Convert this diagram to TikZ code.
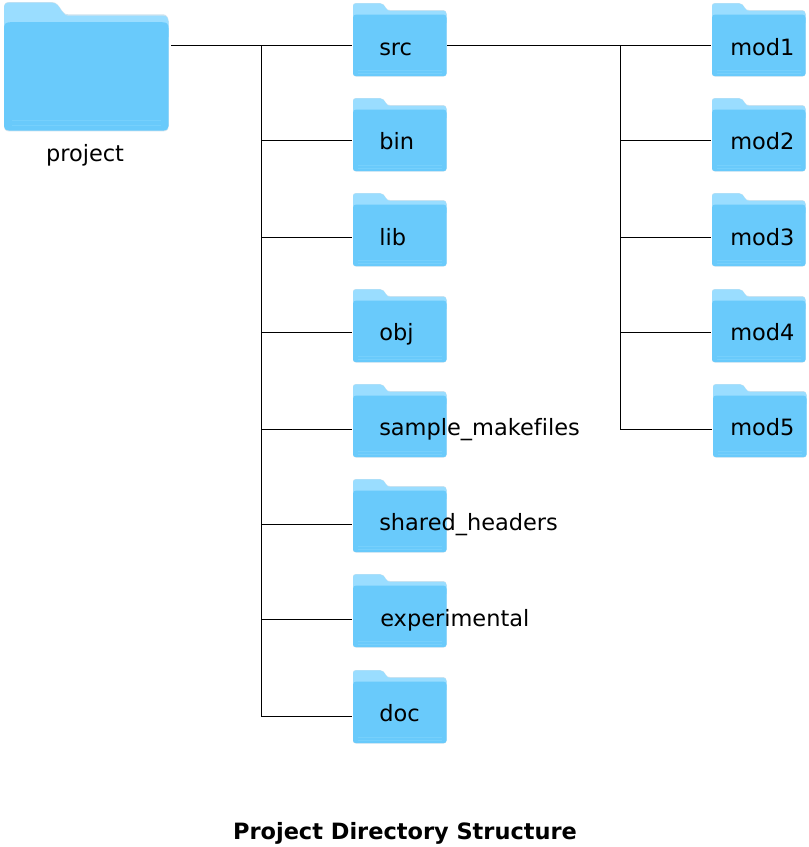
\documentclass[tikz,border=0pt]{standalone}
\usepackage{fontspec}
\setmainfont[Ligatures=NoCommon]{DejaVu Sans}
\definecolor{folderback}{HTML}{9ADDFF}
\definecolor{folderfront}{HTML}{69CAFB}
\definecolor{folderline}{HTML}{76D0FC}
\definecolor{folderedge}{HTML}{CFE3EE}
\tikzset{
  x=0.75pt,y=-0.75pt,
  foldertext/.style={anchor=base west,inner sep=0pt,font=\fontsize{16.85pt}{20pt}\selectfont,text=black},
  foldernode/.style={anchor=north west,inner sep=0pt,minimum width=#1*93.5*0.75pt,minimum height=#1*73.5*0.75pt},
  link/.style={draw=black,line width=0.75pt},
}
% \folder{name}{x}{y}{scale}
\newcommand{\folder}[4]{%
  \begin{scope}[shift={(#2,#3)},scale=#4]
    \fill[folderedge] (0,3) .. controls (0,1) and (1,0) .. (3,0) -- (27,0)
      .. controls (30,0) and (31,2) .. (33,5) .. controls (34,6.6) and (35,7) .. (37,7)
      -- (90.5,7) .. controls (92.5,7) and (93.5,9) .. (93.5,11) -- (93.5,70.5)
      .. controls (93.5,72.5) and (92.5,73.5) .. (90.5,73.5) -- (3,73.5)
      .. controls (1,73.5) and (0,72.5) .. (0,70.5) -- cycle;
    \fill[folderback] (0,3.4) .. controls (0,1.4) and (1,0.4) .. (3,0.4) -- (27,0.4)
      .. controls (30,0.4) and (31,2.4) .. (33,5.4) .. controls (34,7) and (35,7.8) .. (37,7.8)
      -- (90.5,7.8) .. controls (92.5,7.8) and (93.5,9.4) .. (93.5,11) -- (93.5,20) -- (0,20) -- cycle;
    \fill[folderfront] (0,15) .. controls (0,12.5) and (1,11.5) .. (3.5,11.5) -- (90,11.5)
      .. controls (92.5,11.5) and (93.5,12.5) .. (93.5,15) -- (93.5,70.5)
      .. controls (93.5,72.2) and (92.2,73.1) .. (90.5,73.1) -- (3,73.1)
      .. controls (1.3,73.1) and (0,72.2) .. (0,70.5) -- cycle;
    \draw[folderline,line width=0.5pt] (4.5,67.5) -- (89,67.5) (4.5,70) -- (89,70);
    \node[foldernode=#4] (#1) at (0,0) {};
  \end{scope}}
% \treefolder{name}{x}{y}{line y}{label x}{label baseline}{label}
\newcommand{\treefolder}[7]{%
  \folder{#1}{#2}{#3}{1}
  \coordinate (#1-w) at (#2-1,#4);
  \coordinate (#1-e) at (#2+94,#4);
  \node[foldertext] (#1-label) at (#5,#6) {#7};}
\begin{document}
\begin{tikzpicture}
  \useasboundingbox[fill=white] (0,0) rectangle (809,847);
  \folder{root}{4}{2}{1.76}
  \coordinate (root-e) at (171,45);
  \node[foldertext,anchor=base] (root-label) at (85,161) {project};

  \treefolder{src}{353}{3}{45}{379}{55}{src}
  \treefolder{bin}{353}{98}{140.5}{379}{149}{bin}
  \treefolder{lib}{353}{193}{237.5}{379}{245}{lib}
  \treefolder{obj}{353}{289}{332.5}{379}{340}{obj}
  \treefolder{make}{353}{384}{429.5}{379}{435}{sample\_makefiles}
  \treefolder{shared}{353}{479}{524.5}{379}{530}{shared\_headers}
  \treefolder{exp}{353}{574}{619.5}{380}{626}{experimental}
  \treefolder{doc}{353}{670}{716.5}{379}{721}{doc}

  \treefolder{modA}{712}{3}{45}{730}{55}{mod1}
  \treefolder{modB}{712}{98}{140.5}{730}{149}{mod2}
  \treefolder{modC}{712}{193}{237.5}{730}{245}{mod3}
  \treefolder{modD}{712}{289}{332.5}{730}{340}{mod4}
  \treefolder{modE}{713}{384}{429.5}{730}{435}{mod5}

  \coordinate (trunkA) at (261.5,45);
  \coordinate (trunkB) at (620.5,45);

  \draw[link] (root-e) -- (src-w);
  \draw[link] (src-e) -- (modA-w);
  \draw[link] (trunkA) |- (doc-w);
  \foreach \n in {bin,lib,obj,make,shared,exp}
    \draw[link] (trunkA |- \n-w) -- (\n-w);
  \draw[link] (trunkB) |- (modE-w);
  \foreach \n in {modB,modC,modD}
    \draw[link] (trunkB |- \n-w) -- (\n-w);

  \node[anchor=base,inner sep=0pt,font=\fontsize{16.85pt}{20pt}\selectfont\bfseries] (title) at (405,839) {Project Directory Structure};
\end{tikzpicture}
\end{document}
